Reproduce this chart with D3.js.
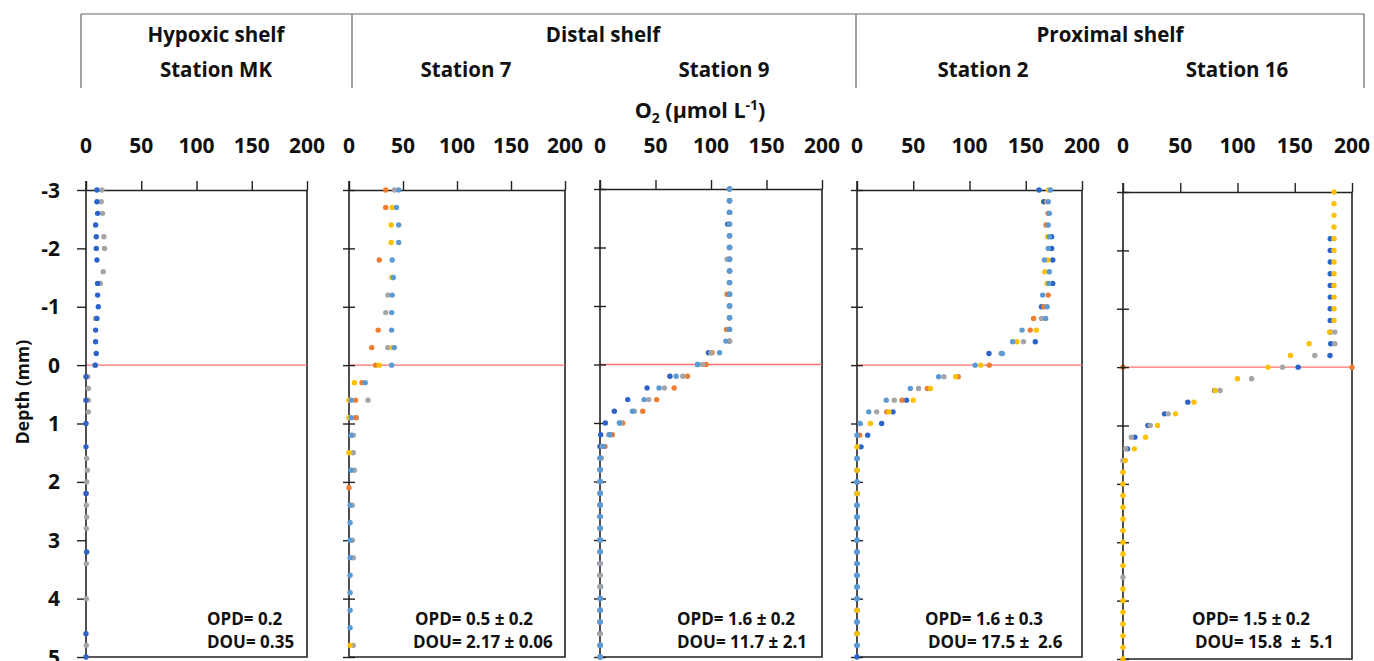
<!DOCTYPE html>
<html>
<head>
<meta charset="utf-8">
<script src="https://cdn.jsdelivr.net/npm/d3@7/dist/d3.min.js"></script>
<style>
  body { margin: 0; background: #fff; }
  text { font-family: "Open Sans", Lato, sans-serif; font-weight: 700; fill: #111; white-space: pre; }
</style>
</head>
<body>
<svg id="chart" width="1374" height="661"></svg>
<script>
/* O2 microprofiles, five stations */

// measurement depths (mm)
const depth02 = [-3, -2.8, -2.6, -2.4, -2.2, -2, -1.8, -1.6, -1.4, -1.2, -1, -0.8, -0.6, -0.4, -0.2, 0,
  0.2, 0.4, 0.6, 0.8, 1, 1.2, 1.4, 1.6, 1.8, 2, 2.2, 2.4, 2.6, 2.8, 3, 3.2, 3.4, 3.6, 3.8, 4,
  4.2, 4.4, 4.6, 4.8, 5]
const depth03 = [-3, -2.7, -2.4, -2.1, -1.8, -1.5, -1.2, -0.9, -0.6, -0.3, 0, 0.3, 0.6, 0.9, 1.2,
  1.5, 1.8, 2.1, 2.4, 2.7, 3, 3.3, 3.6, 3.9, 4.2, 4.5, 4.8]

const groups = ["Hypoxic shelf", "Distal shelf", "Proximal shelf"]
const stations = ["Station MK", "Station 7", "Station 9", "Station 2", "Station 16"]
const xTicks = [0, 50, 100, 150, 200]
const yTicks = [-3, -2, -1, 0, 1, 2, 3, 4, 5]
const opd = ["OPD= 0.2", "OPD= 0.5 ± 0.2", "OPD= 1.6 ± 0.2", "OPD= 1.6 ± 0.3", "OPD= 1.5 ± 0.2"]
const dou = ["DOU= 0.35", "DOU= 2.17 ± 0.06", "DOU= 11.7 ± 2.1", "DOU= 17.5 ±  2.6", "DOU= 15.8  ±  5.1"]
const swi = [0, 200]

// Station MK
const mkDarkBlue = [9.9, 9.9, 10.5, 8.7, 9.3, 9.3, 9.9, null, 10.5, 10.5, 11.1, 9.9, 8.7, 8.7, 9.3, 8.4,
  0, null, 0, null, 0, null, 0, null, null, null, 0, null, null, null, null, 0.6, null, null, null, null,
  null, null, 0, null, 0]
const mkGray = [14.4, 13.8, 15, null, 16.2, 16.8, null, 15.6, 12.9, null, null, 8.7, null, null, null, 8.1,
  1.5, 2.1, 2.1, 2.1, null, null, null, 0.6, 1.2, 0.6, 0.3, 0.3, 0.6, 0.3, null, null, 0.3, null, null, 0.3,
  null, null, null, 0.3, null]

// Station 7
const s7Orange = [34, 34, null, null, 28, 40, null, null, 27, 21, 24.5, 12, 6, 6, null, null, null, 0,
  null, null, null, null, null, null, null, null, null]
const s7Gray = [42, null, null, null, null, null, 36, 34, null, 36, null, null, 17.6, 7, 4, 4, 5, null,
  3, null, 3, 4, null, null, null, null, 4]
const s7Yellow = [null, 40, 39, 39, null, 40, null, null, null, 40, 28, 5, 0, 0, null, 0, null, null,
  null, null, null, null, null, null, null, null, 1]
const s7Blue = [46, 44, 46, 46, 40, 41, 40, 39.5, 39.5, 42, 39.5, 15, 2, 2, 2, null, 2, null,
  1, 1, 1, 1, 1, 1, 1, 1, null]

// Station 9
const s9DarkBlue = [116.7, 116.7, 116.7, 115, 116.7, 116.7, 116.7, 116.7, 116.7, 116.7, 116.7, 116.7, 116.7, 116.7,
  97.7, 88, 63, 42.4, 25, 12.9, 4.8, 0.6, 0, 0, 0, 0, 0, 0, 0, 0, 0, 0, 0, 0, 0.3, 0, 0, 0, 0, 0, 0]
const s9Orange = [116.7, 116.7, 116.7, 116.7, 116.7, 116.7, 116.7, 116.7, 116.7, 114.5, 116.7, 116.7, 114, 116.7,
  101, 95.6, 78.8, 66.8, 51.1, 38.5, 20.5, 11.1, 4.5, 1, null, null, null, null, null, null, null, null,
  null, null, null, null, null, null, null, null, null]
const s9Gray = [116.7, 116.7, 116.7, 116.7, 116.7, 116.7, 114.5, 116.7, 116.7, 116.7, 116.7, 116.7, 116.7, 116.7,
  100, 92.6, 74.6, 58, 43.9, 31, 18.5, 7.8, 2.1, 0.6, 0, 0, 0, 0, 0, 0, 0, 0, 0, 0, 0, 0, 0, 0, 0, 0, 0]
const s9LightBlue = [116.7, 116.7, 116.7, 116.7, 116.7, 116.7, 116.7, 116.7, 116.7, 116.7, 116.7, 116.7, 116.4, 113.4,
  107.7, 88, 68.6, 53.2, 39.7, 29.2, 17.4, 9, 3, 0.6, 0.3, 0.3, 0.3, 0.3, 0.3, 0.3, 0.3, 0.3, null, null, null,
  0.3, 0.3, 0.3, null, 0.3, 0.3]

// Station 2
const s2DarkBlue = [161.8, 166, null, null, 173, 173, 174, null, 174, null, 164, null, null, 158.5, 117.3, null,
  null, null, 44, 32, 21.9, 9.5, 3.6, 0, 0, 0, 0, 0, 0, 0, 0, 0, 0, 0, 0, 0, 0, 0, 0, 0, 0]
const s2Gray = [null, null, null, null, null, null, null, null, null, null, null, 164, null, 148, 128, null,
  77.3, 54.8, 33.2, 17.5, null, null, null, null, null, null, null, null, null, null, null, null, null, null,
  null, null, null, null, null, null, null]
const s2Orange = [null, null, 169.8, 168, null, null, null, null, null, 170, 166, 157, 154, null, null, 117.6,
  90, 62.5, 40, 26.4, null, 2.4, null, null, null, null, null, null, null, null, null, null, null, null,
  null, null, null, null, null, null, null]
const s2Yellow = [170, 169, null, null, 169.5, null, 169.5, 167, 169, null, null, null, 159.4, 142.2, null, 110,
  87.7, 65.2, 50, 28.4, 11.9, null, 0, null, 0, null, 0, null, null, null, null, null, null, null, null,
  null, 0, null, 0, null, null]
const s2LightBlue = [172, 170, 171, 170, 171, 170, 166.5, 171, 170.5, 165, 169, 167.7, 146.7, 138.4, 129.2, 105,
  72.6, 47.4, 26, 10.4, 2.7, 0, null, 0, null, 0, null, 0, 0, 0, 0, 0, 0, 0, 0, 0, null, 0, null, 0, null]

// Station 16
const s16DarkBlue = [null, null, null, null, 181, 181, 181, 181, 181, 181, 181, 181, 181, 181.4, 180.8, 153,
  null, 80, 56.6, 36.3, 21.8, 10.4, 4, null, null, null, null, null, null, null, null, null, null, null,
  null, null, null, null, null, null, null]
const s16Gray = [null, null, null, null, null, null, null, null, null, null, null, null, 185, 185, 167.5, 139.3,
  112.3, 84.8, null, 39.5, 23.8, 7.3, 2.3, 0, null, null, null, null, null, null, null, null, null, 0,
  null, null, null, null, null, null, null]
const s16Yellow = [184.3, 184.3, 184.3, 184.3, 184.3, 184.3, 184.3, 184.3, 184.3, 184.3, 184.3, 184.3, 180.5, 162.5,
  146.3, 126.6, 100, 80.4, 62, 45.9, 30.2, 19.7, 9.9, 2, 0, 0, 0, 0, 0, 0, 0, 0, 0, null, 0, 0, 0, 0, 0, 0, 0]

const colors = {
  darkBlue: "#2b63c8",
  lightBlue: "#5b9bd5",
  orange: "#ed7d31",
  gray: "#a5a5a5",
  yellow: "#ffc000"
}

const profiles = [
  { depths: depth02, series: [["gray", mkGray], ["darkBlue", mkDarkBlue]] },
  { depths: depth03, series: [["gray", s7Gray], ["orange", s7Orange], ["yellow", s7Yellow], ["lightBlue", s7Blue]] },
  { depths: depth02, series: [["darkBlue", s9DarkBlue], ["orange", s9Orange], ["gray", s9Gray], ["lightBlue", s9LightBlue]] },
  { depths: depth02, series: [["darkBlue", s2DarkBlue], ["gray", s2Gray], ["orange", s2Orange], ["yellow", s2Yellow], ["lightBlue", s2LightBlue]] },
  { depths: depth02, series: [["darkBlue", s16DarkBlue], ["gray", s16Gray], ["yellow", s16Yellow]] }
]

// layout
const panelLeft = [86, 349, 600, 857, 1123]
const panelRight = [307, 565, 822, 1082, 1352]
const panelTop = [190, 190, 189, 190, 192]
const panelBottom = [657, 657, 657, 657, 659]
const stationX = [216, 466, 724, 983, 1237]
const groupX = [216, 603, 1110]
const dividerX = [81, 352, 856, 1364]
const opdX = [207, 415, 677, 925, 1192]
const douX = [207, 413, 677, 928, 1195]

const svg = d3.select("#chart")

// header box
const header = svg.append("g").attr("class", "header")
header.append("line")
  .attr("x1", dividerX[0]).attr("x2", dividerX[3])
  .attr("y1", 14).attr("y2", 14)
  .attr("stroke", "#666").attr("stroke-width", 1.2)
header.selectAll("line.div")
  .data(dividerX)
  .join("line")
  .attr("class", "div")
  .attr("x1", d => d).attr("x2", d => d)
  .attr("y1", 14).attr("y2", 88)
  .attr("stroke", "#666").attr("stroke-width", 1.2)
header.selectAll("text.group")
  .data(groups)
  .join("text")
  .attr("class", "group")
  .attr("x", (d, i) => groupX[i])
  .attr("y", 42)
  .attr("text-anchor", "middle")
  .style("font-size", "20.5px")
  .text(d => d)
header.selectAll("text.station")
  .data(stations)
  .join("text")
  .attr("class", "station")
  .attr("x", (d, i) => stationX[i])
  .attr("y", 77)
  .attr("text-anchor", "middle")
  .style("font-size", "20.5px")
  .text(d => d)

// x title
const xTitle = svg.append("text")
  .attr("x", 700).attr("y", 118)
  .attr("text-anchor", "middle")
  .style("font-size", "21.5px")
xTitle.append("tspan").text("O")
xTitle.append("tspan").attr("dy", 5).style("font-size", "14px").text("2")
xTitle.append("tspan").attr("dy", -5).text(" (µmol L")
xTitle.append("tspan").attr("dy", -8).style("font-size", "14px").text("-1")
xTitle.append("tspan").attr("dy", 8).text(")")

// y title
svg.append("text")
  .attr("transform", "translate(29,392) rotate(-90)")
  .attr("text-anchor", "middle")
  .style("font-size", "17.5px")
  .text("Depth (mm)")

profiles.forEach((p, i) => {
  const x = d3.scaleLinear().domain([0, 200]).range([panelLeft[i], panelRight[i]])
  const y = d3.scaleLinear().domain([-3, 5]).range([panelTop[i], panelBottom[i]])
  const g = svg.append("g").attr("class", "panel")

  // frame: right and bottom
  g.append("path")
    .attr("d", `M${x(200)},${y(-3)}V${y(5)}H${x(0)}`)
    .attr("fill", "none").attr("stroke", "#222").attr("stroke-width", 1.6)

  // sediment-water interface
  g.append("line")
    .attr("x1", x(swi[0])).attr("x2", x(swi[1]))
    .attr("y1", y(0)).attr("y2", y(0))
    .attr("stroke", "#ff7070").attr("stroke-width", 1.3)
  if (i === 4) {
    g.selectAll("circle.swi")
      .data(swi)
      .join("circle")
      .attr("class", "swi")
      .attr("cx", d => x(d)).attr("cy", y(0)).attr("r", 2.7)
      .attr("fill", colors.orange)
  }

  // top axis
  const xAxis = g.append("g")
    .attr("transform", `translate(0,${y(-3)})`)
    .call(d3.axisTop(x).tickValues(xTicks).tickSize(9).tickSizeOuter(0).tickFormat(""))
  xAxis.select(".domain").attr("stroke", "#222").attr("stroke-width", 1.6)
  xAxis.selectAll(".tick line").attr("stroke", "#222").attr("stroke-width", 1.4)
  g.selectAll("text.xtick")
    .data(xTicks)
    .join("text")
    .attr("class", "xtick")
    .attr("x", d => x(d))
    .attr("y", 153)
    .attr("text-anchor", "middle")
    .style("font-size", "21px")
    .text(d => d)

  // left axis: outside ticks for first panel, crossing ticks for others
  const cross = i === 0 ? 0 : 6
  const yAxis = g.append("g")
    .attr("transform", `translate(${x(0) + cross},0)`)
    .call(d3.axisLeft(y).tickValues(yTicks).tickSize(i === 0 ? 9 : 12).tickSizeOuter(0).tickFormat(""))
  yAxis.select(".domain").remove()
  yAxis.selectAll(".tick line").attr("stroke", "#222").attr("stroke-width", 1.4)
  g.append("line")
    .attr("x1", x(0)).attr("x2", x(0))
    .attr("y1", y(-3) - 9).attr("y2", y(5))
    .attr("stroke", "#222").attr("stroke-width", 1.6)

  if (i === 0) {
    g.selectAll("text.ytick")
      .data(yTicks)
      .join("text")
      .attr("class", "ytick")
      .attr("x", 60)
      .attr("y", d => y(d))
      .attr("dy", "0.36em")
      .attr("text-anchor", "end")
      .style("font-size", "21px")
      .text(d => d)
  }

  // profiles
  p.series.forEach(([key, values]) => {
    const pts = values
      .map((v, k) => ({ v: v, d: p.depths[k] }))
      .filter(o => o.v !== null)
    g.append("g")
      .selectAll("circle")
      .data(pts)
      .join("circle")
      .attr("cx", o => x(o.v))
      .attr("cy", o => y(o.d))
      .attr("r", 2.7)
      .attr("fill", colors[key])
  })

  // OPD / DOU notes
  g.append("text")
    .attr("x", opdX[i]).attr("y", 625)
    .style("font-size", "17px")
    .text(opd[i])
  g.append("text")
    .attr("x", douX[i]).attr("y", 648)
    .style("font-size", "17px")
    .text(dou[i])
})
</script>
</body>
</html>
